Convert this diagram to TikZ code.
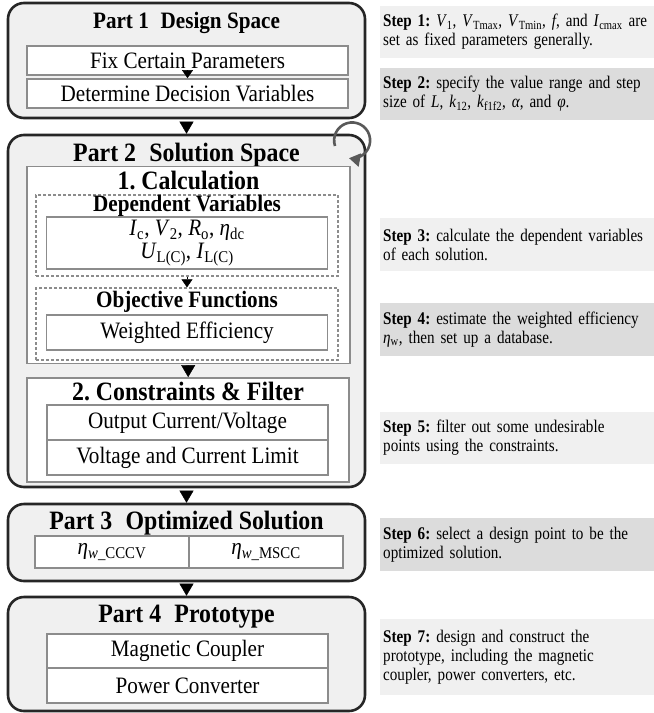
\documentclass[tikz,border=0pt]{standalone}
\usepackage{fontspec}
\setmainfont{Liberation Serif}[FakeStretch=0.9]
\newfontfamily\stepfont{Liberation Serif}[FakeStretch=0.85]
\usetikzlibrary{positioning,arrows.meta}
\definecolor{partfill}{HTML}{F0F0F0}
\definecolor{partline}{HTML}{262626}
\definecolor{boxline}{HTML}{8C8C8C}
\definecolor{steplight}{HTML}{F0F0F0}
\definecolor{stepdark}{HTML}{DCDCDC}
\definecolor{loopgray}{HTML}{595959}
\newcommand{\iv}[2]{\textit{#1}\textsubscript{#2}}
\frenchspacing

\begin{document}
\begin{tikzpicture}[x=1pt, y=-1pt,
  part/.style={draw=partline, line width=2.6pt, fill=partfill, rounded corners=16pt, minimum width=357pt, inner sep=0pt},
  title/.style={font=\fontsize{26.5}{28}\selectfont\bfseries, inner sep=0pt},
  subtitle/.style={font=\fontsize{23.5}{26}\selectfont\bfseries, inner sep=0pt},
  group/.style={draw=boxline, line width=1.8pt, fill=white, inner sep=0pt},
  dashbox/.style={draw=boxline, line width=1.3pt, dash pattern=on 3pt off 2pt, minimum width=302pt, inner sep=0pt},
  item/.style={draw=boxline, line width=1.8pt, fill=white, minimum width=281pt, inner sep=0pt, font=\fontsize{23.5}{26}\selectfont},
  stepbox/.style={anchor=west, minimum width=274pt, text width=268pt, inner xsep=3pt, align=left, font=\stepfont\fontsize{17.8}{19}\selectfont},
  tri/.style={-{Triangle[width=14pt,length=12pt]}, line width=0.4pt, shorten <=2.5pt},
  smalltri/.style={-{Triangle[width=11pt,length=8pt]}, line width=0.4pt}
]
\useasboundingbox (0,0) rectangle (654,713);

\node[part, minimum height=115pt] (part1) at (186.5,60.5) {};
\node[subtitle] (title1) at (186.5,22.5) {Part 1\hspace{0.5em}Design Space};
\node[item, minimum width=321pt, minimum height=29pt] (fix) at (187.5,60.5) {Fix Certain Parameters};
\node[item, minimum width=321pt, minimum height=29pt] (decide) at (187.5,93.5) {Determine Decision Variables};
\draw[smalltri] (fix) -- (decide);

\node[part, minimum height=352pt] (part2) at (186.5,311) {};
\node[title] (title2) at (186.5,155) {Part 2\hspace{0.5em}Solution Space};
\node[group, minimum width=323pt, minimum height=197pt] (calc) at (188.5,265) {};
\node[title] (calctitle) at (188.5,180.5) {1. Calculation};
\node[dashbox, minimum height=81pt] (depgroup) at (187,235.5) {};
\node[subtitle] (deptitle) at (187,205.5) {Dependent Variables};
\node[item, minimum height=52pt, align=center, font=\fontsize{23.5}{23}\selectfont] (depvars) at (187,243)
  {\iv{I}{c}, \iv{V}{2}, \iv{R}{o}, \iv{η}{dc}\\ \iv{U}{L(C)}, \iv{I}{L(C)}};
\node[dashbox, minimum height=72pt] (objgroup) at (187,324) {};
\node[subtitle] (objtitle) at (187,301.5) {Objective Functions};
\node[item, minimum height=35pt] (weff) at (187,332.5) {Weighted Efficiency};
\draw[smalltri] (depgroup) -- (objgroup);
\node[group, minimum width=322pt, minimum height=104pt] (cons) at (188,430) {};
\node[title] (constitle) at (188,391) {2. Constraints \& Filter};
\node[item, minimum height=35pt] (output) at (187.5,422.5) {Output Current/Voltage};
\node[item, minimum height=35pt] (limit) at (187.5,457.5) {Voltage and Current Limit};
\draw[tri] (calc) -- (cons);
\draw[loopgray, line width=2.6pt, -{Triangle[width=13pt,length=11pt]}] (335,146) arc[start angle=198, end angle=-100, radius=18pt];

\node[part, minimum height=77pt] (part3) at (186.5,542.5) {};
\node[title] (title3) at (186.5,523.5) {Part 3\hspace{0.5em}Optimized Solution};
\node[item, minimum width=154pt, minimum height=32pt] (cccv) at (112,552) {\textit{η}\textsubscript{\textit{w}\_CCCV}};
\node[item, minimum width=154pt, minimum height=32pt] (mscc) at (266,552) {\textit{η}\textsubscript{\textit{w}\_MSCC}};

\node[part, minimum height=114pt] (part4) at (186.5,654) {};
\node[title] (title4) at (186.5,616.5) {Part 4\hspace{0.5em}Prototype};
\node[item, minimum height=34pt] (coupler) at (187.5,651) {Magnetic Coupler};
\node[item, minimum height=35pt] (converter) at (187.5,685.5) {Power Converter};

\draw[tri] (part1) -- (part2);
\draw[tri] (part2) -- (part3);
\draw[tri] (part3) -- (part4);

\node[stepbox, fill=steplight, minimum height=52pt] (step1) at (380,32)
  {\textbf{Step 1:} \iv{V}{1}, \iv{V}{Tmax}, \iv{V}{Tmin}, \textit{f}, and \iv{I}{cmax} are\\ set as fixed parameters generally.};
\node[stepbox, fill=stepdark, minimum height=52pt] (step2) at (380,94)
  {\textbf{Step 2:} specify the value range and step\\ size of \textit{L}, \iv{k}{12}, \iv{k}{f1f2}, \textit{α}, and \textit{φ}.};
\node[stepbox, fill=steplight, minimum height=53pt] (step3) at (380,244.5)
  {\textbf{Step 3:} calculate the dependent variables\\ of each solution.};
\node[stepbox, fill=stepdark, minimum height=53pt] (step4) at (380,329.5)
  {\textbf{Step 4:} estimate the weighted efficiency\\ \iv{η}{w}, then set up a database.};
\node[stepbox, fill=steplight, minimum height=52pt] (step5) at (380,438)
  {\textbf{Step 5:} filter out some undesirable\\ points using the constraints.};
\node[stepbox, fill=stepdark, minimum height=53pt] (step6) at (380,544.5)
  {\textbf{Step 6:} select a design point to be the\\ optimized solution.};
\node[stepbox, fill=steplight, minimum height=76pt] (step7) at (380,657)
  {\textbf{Step 7:} design and construct the\\ prototype, including the magnetic\\ coupler, power converters, etc.};
\end{tikzpicture}
\end{document}
